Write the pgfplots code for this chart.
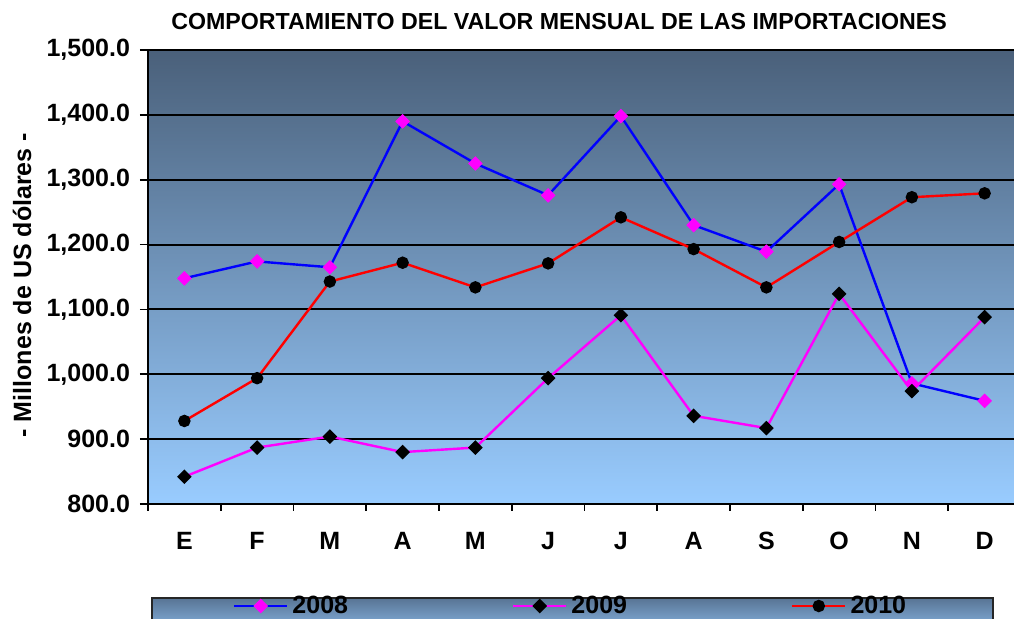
\documentclass[border=0pt]{standalone}
\usepackage{fontspec}
\setmainfont{Liberation Sans}
\usepackage{pgfplots}
\pgfplotsset{compat=1.18}

\definecolor{bgtop}{RGB}{74,96,122}
\definecolor{bgbot}{RGB}{153,204,255}
\definecolor{legtop}{RGB}{88,116,148}
\definecolor{mag}{RGB}{255,0,255}

\newcommand{\chartfont}{\bfseries\fontsize{12.5}{14}\selectfont}
\newcommand{\titlefont}{\bfseries\fontsize{11.6}{13}\selectfont}

\begin{document}
\begin{tikzpicture}
\useasboundingbox (0,0) rectangle (507pt,309.5pt);
\clip (0,0) rectangle (507pt,309.5pt);
% legend box (cut at the bottom edge, as in the original)
\draw[black!85, line width=1pt, top color=legtop, bottom color=bgbot]
  (76pt,-12pt) rectangle (496.5pt,10.5pt);
\begin{axis}[
    at={(74pt,57.5pt)}, anchor=south west,
    scale only axis, width=436.5pt, height=227pt,
    xmin=-0.5, xmax=11.5, ymin=800, ymax=1500,
    axis background/.style={top color=bgtop, bottom color=bgbot},
    axis x line*=bottom, axis y line*=left,
    axis line style={black, line width=1pt},
    xtick={0,...,11},
    xticklabels={E,F,M,A,M,J,J,A,S,O,N,D},
    major x tick style={draw=none},
    minor xtick={-0.5,0.5,...,11.5},
    minor x tick style={black, line width=0.8pt},
    ytick={800,900,...,1500},
    y tick style={black, line width=0.8pt},
    tick align=outside, major tick length=4pt, minor tick length=3.5pt,
    ymajorgrids, major grid style={black, line width=1pt},
    scaled y ticks=false,
    ticklabel style={font=\chartfont},
    xticklabel style={yshift=-6.5pt},
    yticklabel style={xshift=-1.5pt, /pgf/number format/.cd, fixed, fixed zerofill, precision=1, 1000 sep={,}, assume math mode=true},
    title={COMPORTAMIENTO DEL VALOR MENSUAL DE LAS IMPORTACIONES},
    title style={font=\titlefont, at={(axis description cs:0.4708,1.0617)}, anchor=center, yshift=-6pt},
    ylabel={- Millones de US dólares -},
    every axis y label/.style={at={(axis description cs:-0.1443,0.482)}, rotate=90, anchor=center, font=\chartfont},
    legend columns=3,
    legend style={at={(axis description cs:0.097,-0.2247)}, anchor=west, draw=none, fill=none,
      font=\chartfont, inner sep=0pt, /tikz/every even column/.append style={column sep=80pt}},
    legend image code/.code={\draw[mark repeat=2,mark phase=2,#1] plot coordinates {(0pt,0pt) (13.25pt,0pt) (26.5pt,0pt)};},
]
\addplot[blue, line width=1.2pt, mark=square*, mark size=2pt, mark options={mag, solid, rotate=45}] coordinates {
(0,1148) (1,1174) (2,1165) (3,1390) (4,1325) (5,1276)
(6,1398) (7,1230) (8,1189) (9,1293) (10,986) (11,959)
};
\addlegendentry{2008}
\addplot[mag, line width=1.2pt, mark=square*, mark size=2pt, mark options={black, solid, rotate=45}] coordinates {
(0,842) (1,887) (2,904) (3,880) (4,887) (5,994)
(6,1091) (7,936) (8,917) (9,1124) (10,974) (11,1088)
};
\addlegendentry{2009}
\addplot[red, line width=1.2pt, mark=*, mark size=2.5pt, mark options={black, solid}] coordinates {
(0,928) (1,994) (2,1143) (3,1172) (4,1134) (5,1171)
(6,1242) (7,1193) (8,1134) (9,1204) (10,1273) (11,1279)
};
\addlegendentry{2010}
\end{axis}
\end{tikzpicture}
\end{document}
